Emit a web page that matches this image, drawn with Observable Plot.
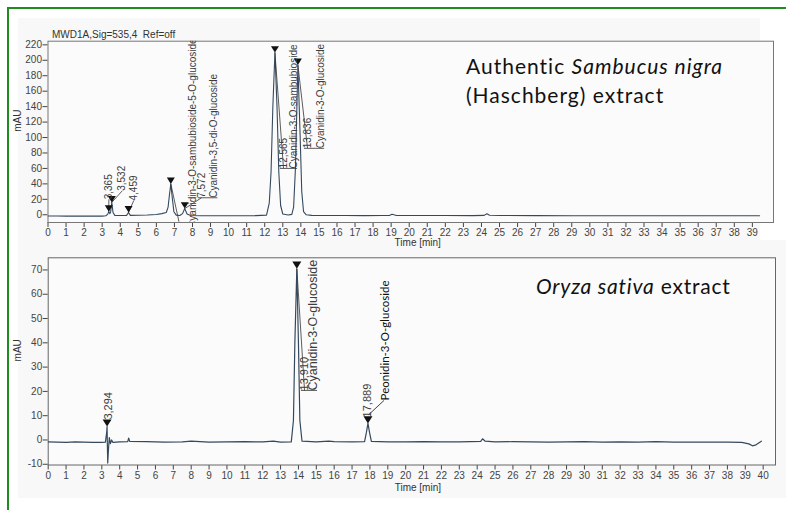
<!DOCTYPE html>
<html><head><meta charset="utf-8">
<script src="https://cdn.jsdelivr.net/npm/d3@7"></script>
<script src="https://cdn.jsdelivr.net/npm/@observablehq/plot@0.6"></script>
<style>
body{margin:0;background:#fff}
#wrap{position:relative;width:786px;height:510px;overflow:hidden;background:#fff}
.gl{position:absolute;background:#1e8c1e}
.bg{position:absolute;background:#f8f8f8}
.pan{position:absolute;left:0}
.species{position:absolute;font-family:Lato,"Open Sans",sans-serif;color:#111;white-space:nowrap}
</style></head><body>
<div id="wrap">
  <div class="bg" style="left:18px;top:18px;width:742px;height:222px"></div>
  <div class="bg" style="left:18px;top:240px;width:768px;height:258px"></div>
  <div class="gl" style="left:8px;top:7px;width:778px;height:2px"></div>
  <div class="gl" style="left:7px;top:7px;width:2px;height:503px"></div>
  <div id="top" class="pan" style="top:0"></div>
  <div id="bot" class="pan" style="top:250px"></div>
  <div class="species" style="left:466px;top:51px;font-size:21px;line-height:29px;letter-spacing:1px">Authentic <i>Sambucus nigra</i><br>(Haschberg) extract</div>
  <div class="species" style="left:536px;top:271px;font-size:21px;line-height:29px;letter-spacing:0.8px"><i>Oryza sativa</i> extract</div>
</div>
<script>
// ---------- Top chromatogram: Sambucus nigra (MWD1A, Sig=535,4) ----------
const topTime = [0,0.5,1,1.5,2,2.5,3,3.2,3.3,3.365,3.43,3.47,3.532,3.6,3.7,4.0,4.35,4.459,4.56,5.0,5.5,6.0,6.3,6.55,6.65,6.72,6.8,6.88,6.97,7.1,7.3,7.45,7.572,7.7,7.9,8.5,9.5,10.5,11.5,12.1,12.25,12.35,12.45,12.565,12.68,12.78,12.88,13.0,13.3,13.5,13.6,13.7,13.836,13.95,14.05,14.15,14.3,14.6,15.5,16.5,17.5,18.5,18.9,19.05,19.3,20.5,22,23.5,24.15,24.3,24.45,25,27,29,31,33,35,37,39,39.4];
const topAbs  = [-1.5,-1.6,-1.7,-1.5,-1.8,-1.6,-1.7,-1.2,0.5,4,1.5,4,16,3,-0.8,-1,-0.8,3,-0.8,-0.6,-0.3,0.3,1.5,3,10,25,40,22,4,-0.5,-1,1.5,8,1,-1,-1.2,-1.3,-1.2,-1.1,-0.5,15,55,140,210,140,55,12,1,-0.3,0.5,10,60,194,110,30,4,0,-0.8,-1,-1,-1.1,-1,-0.9,0.6,-0.9,-1,-1,-1.1,-0.8,1.2,-0.7,-1,-1.1,-1.2,-1.2,-1.3,-1.3,-1.3,-1.3,-1.3];

const topPeakTime = [3.365, 3.532, 4.459, 6.80, 7.572, 12.565, 13.836];
const topPeakAbs  = [4, 16, 3, 40, 8, 210, 194];
const topRtText   = ["3,365","3,532","4,459","","7,572","12,565","13,836"];
const topRtTime   = [3.37, 4.11, 4.75, 7.25, 8.5, 13.04, 14.37];
const topRtAbs    = [20, 31, 18.5, -9, 22, 60, 86];
const topNameText = ["Cyanidin-3-O-sambubioside-5-O-glucoside","Cyanidin-3,5-di-O-glucoside","Cyanidin-3-O-sambubioside","Cyanidin-3-O-glucoside"];
const topNameTime = [8.0, 9.18, 13.59, 15.09];
const topNameAbs  = [-17, 22, 60, 86];

// ---------- Bottom chromatogram: Oryza sativa ----------
const botTime = [0,0.5,1,1.5,2,2.5,3,3.2,3.27,3.294,3.31,3.33,3.37,3.42,3.48,3.55,3.62,4.0,4.45,4.5,4.56,5.5,6.5,7.5,8.0,9,10,11,12,12.6,13,13.6,13.72,13.8,13.91,14.0,14.08,14.2,15,15.7,16,17,17.7,17.8,17.889,17.98,18.08,19,20,21,22,23,24.2,24.3,24.45,25,26,27,28,29,30,31,32,33,34,35,36,37,38,38.8,39.2,39.4,39.6,39.9];
const botAbs  = [-0.8,-0.9,-1.0,-0.8,-0.9,-1.0,-1.0,-0.9,3,5.5,-2,-9.5,-4,1,-1.5,0,-1,-0.8,-0.7,0.8,-0.6,-0.7,-0.9,-0.8,-0.5,-0.9,-0.8,-0.7,-0.8,-0.5,-0.9,-0.8,8,40,70.5,40,8,-0.5,-0.8,-0.5,-0.7,-0.8,-0.7,3,6.8,3,-0.6,-0.8,-0.8,-0.7,-0.8,-0.8,-0.6,0.5,-0.5,-0.8,-0.7,-0.8,-0.9,-0.8,-0.7,-0.9,-0.8,-0.9,-0.7,-0.9,-0.9,-0.9,-0.9,-1.0,-1.6,-2.4,-2.0,-0.5];

const botPeakTime = [3.294, 13.910, 17.889];
const botPeakAbs  = [5.5, 70.5, 6.8];
const botRtText   = ["3,294","13,910","17,889"];
const botRtTime   = [3.37, 14.34, 17.84];
const botRtAbs    = [8.4, 20.4, 9.3];
const botNameText = ["Cyanidin-3-O-glucoside"];
const botNameTime = [14.84];
const botNameAbs  = [20.4];
const peonText = ["Peonidin-3-O-glucoside"];
const peonTime = [18.87];
const peonAbs  = [16.3];
const peonLeadFrom = [17.93, 10.4];

const xTicksTop = d3.range(0, 40);
const xTicksBot = d3.range(0, 41);
const yTicksTop = d3.range(0, 221, 20);
const yTicksBot = d3.range(-10, 71, 10);

// inverted triangle peak marker, tip at the apex
const invTri = {draw(ctx, size){ const r = Math.sqrt(size/Math.PI); ctx.moveTo(0,0); ctx.lineTo(-r,-1.6*r); ctx.lineTo(r,-1.6*r); ctx.closePath(); }};

const zip = (a,b) => a.map((v,i)=>({t:v, v:b[i]}));
const traceColor = "#34495e";
const annColor = "#3d3d3d";
const axisStyle = {fontFamily:"'Liberation Sans', Arial, sans-serif", fontSize:"10px", color:"#444", background:"transparent", overflow:"visible"};

// ---- top panel
const topAnn = topPeakTime.map((t,i)=>({t, v:topPeakAbs[i], rt:topRtText[i], rtT:topRtTime[i], rtV:topRtAbs[i]}));
const topNames = topNameText.map((s,i)=>({s, t:topNameTime[i], v:topNameAbs[i]}));
const topUnder = topNames.slice(1).map((d,i)=>({x1: topRtTime[i+4]-0.2, x2: d.t+0.2, v: d.v}));

const topPlot = Plot.plot({
  width: 786, height: 250,
  marginLeft: 47.5, marginRight: 13, marginTop: 40.7, marginBottom: 28,
  style: axisStyle,
  x: {domain:[0, 40.17], ticks: xTicksTop, tickFormat: d => String(d), tickSize: 5, tickPadding: 1, label: null},
  y: {domain:[-10, 224.7], ticks: yTicksTop, tickFormat: d => String(d), tickSize: 5, tickPadding: 1, label: null},
  marks: [
    Plot.frame({stroke:"#777", fill:"#fbfbfb"}),
    Plot.line(zip(topTime, topAbs), {x:"t", y:"v", stroke:traceColor, strokeWidth:1.1, clip:true}),
    Plot.link(topAnn.filter(d=>d.rtT!=null), {x1:"t", y1:"v", x2:"rtT", y2:"rtV", stroke:"#333", strokeWidth:0.8, clip:true}),
    Plot.link(topUnder, {x1:"x1", x2:"x2", y1:"v", y2:"v", stroke:"#333", strokeWidth:0.8}),
    Plot.dot(topAnn, {x:"t", y:"v", symbol: invTri, r:4, fill:"#111", stroke:"none"}),
    Plot.text(topAnn.filter(d=>d.rt), {x:"rtT", y:"rtV", text:"rt", rotate:-90, textAnchor:"start", fill:annColor, fontSize:10, clip:true}),
    Plot.text(topNames, {x:"t", y:"v", text:"s", rotate:-90, textAnchor:"start", fill:annColor, fontSize:10, clip:true}),
    Plot.text(["mAU"], {frameAnchor:"left", dx:-30, rotate:-90, fill:"#333", fontSize:10}),
    Plot.text(["Time [min]"], {frameAnchor:"bottom", dy:23, dx:7, fill:"#333", fontSize:10}),
    Plot.text(["MWD1A,Sig=535,4\u00a0 Ref=off"], {frameAnchor:"top-left", dy:-10, dx:4, textAnchor:"start", fill:"#333", fontSize:10})
  ]
});
document.getElementById("top").append(topPlot);

// ---- bottom panel
const botAnn = botPeakTime.map((t,i)=>({t, v:botPeakAbs[i], rt:botRtText[i], rtT:botRtTime[i], rtV:botRtAbs[i]}));
const botNames = botNameText.map((s,i)=>({s, t:botNameTime[i], v:botNameAbs[i]}));
const peon = peonText.map((s,i)=>({s, t:peonTime[i], v:peonAbs[i]}));

const botPlot = Plot.plot({
  width: 786, height: 260,
  marginLeft: 47.7, marginRight: 11, marginTop: 7.3, marginBottom: 45.5,
  style: axisStyle,
  x: {domain:[0, 40.69], ticks: xTicksBot, tickFormat: d => String(d), tickSize: 5, tickPadding: 2, label: null},
  y: {domain:[-10.3, 75], ticks: yTicksBot, tickFormat: d => String(d), tickSize: 5, tickPadding: 1, label: null},
  marks: [
    Plot.frame({stroke:"#666", fill:"#fbfbfb"}),
    Plot.line(zip(botTime, botAbs), {x:"t", y:"v", stroke:traceColor, strokeWidth:1.2, clip:true}),
    Plot.link([botAnn[1]], {x1:"t", y1:"v", x2:"rtT", y2:"rtV", stroke:"#333", strokeWidth:0.8}),
    Plot.link([{x1: botRtTime[1]-0.2, x2: botNameTime[0]+0.2, v: botNameAbs[0]}], {x1:"x1", x2:"x2", y1:"v", y2:"v", stroke:"#333", strokeWidth:0.8}),
    Plot.link(peon, {x1:() => peonLeadFrom[0], y1:() => peonLeadFrom[1], x2:d => d.t - 0.08, y2:"v", stroke:"#111", strokeWidth:0.8}),
    Plot.dot(botAnn, {x:"t", y:"v", symbol: invTri, r:4.5, fill:"#111", stroke:"none"}),
    Plot.text(botAnn, {x:"rtT", y:"rtV", text:"rt", rotate:-90, textAnchor:"start", fill:annColor, fontSize:11, clip:true}),
    Plot.text(botNames, {x:"t", y:"v", text:"s", rotate:-90, textAnchor:"start", fill:annColor, fontSize:12.5, clip:true}),
    Plot.text(peon, {x:"t", y:"v", text:"s", rotate:-90, textAnchor:"start", fill:"#111", fontSize:11.5, fontFamily:"Lato, 'Open Sans', sans-serif"}),
    Plot.text(["mAU"], {frameAnchor:"left", dx:-30, rotate:-90, fill:"#333", fontSize:10}),
    Plot.text(["Time [min]"], {frameAnchor:"bottom", dy:25.5, dx:6, fill:"#333", fontSize:10})
  ]
});
document.getElementById("bot").append(botPlot);
</script>
</body></html>
